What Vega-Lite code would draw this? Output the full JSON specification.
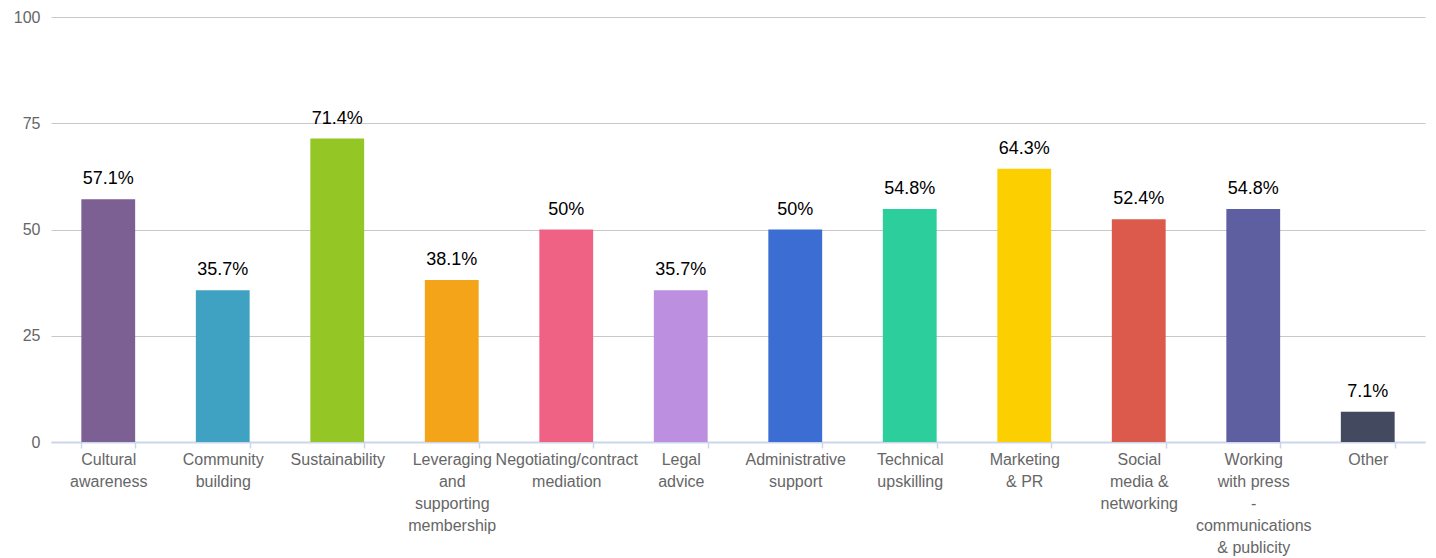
{
  "$schema": "https://vega.github.io/schema/vega-lite/v6.json",
  "width": 1374,
  "height": 425,
  "autosize": "none",
  "padding": {"left": 51, "top": 17, "right": 11, "bottom": 116},
  "background": "white",
  "data": {
    "values": [
      {"category": "Cultural|awareness", "value": 57.1, "label": "57.1%", "color": "#7c5f93"},
      {"category": "Community|building", "value": 35.7, "label": "35.7%", "color": "#3fa2c2"},
      {"category": "Sustainability", "value": 71.4, "label": "71.4%", "color": "#94c726"},
      {"category": "Leveraging|and|supporting|membership", "value": 38.1, "label": "38.1%", "color": "#f4a418"},
      {"category": "Negotiating/contract|mediation", "value": 50, "label": "50%", "color": "#ef6284"},
      {"category": "Legal|advice", "value": 35.7, "label": "35.7%", "color": "#bc8fe0"},
      {"category": "Administrative|support", "value": 50, "label": "50%", "color": "#3b6dd3"},
      {"category": "Technical|upskilling", "value": 54.8, "label": "54.8%", "color": "#2ccf9b"},
      {"category": "Marketing|& PR", "value": 64.3, "label": "64.3%", "color": "#fcd000"},
      {"category": "Social|media &|networking", "value": 52.4, "label": "52.4%", "color": "#dc5a4b"},
      {"category": "Working|with press|-|communications|& publicity", "value": 54.8, "label": "54.8%", "color": "#5e5fa1"},
      {"category": "Other", "value": 7.1, "label": "7.1%", "color": "#434a5f"}
    ]
  },
  "config": {
    "view": {"stroke": null},
    "font": "Liberation Sans"
  },
  "encoding": {
    "x": {
      "field": "category",
      "type": "nominal",
      "sort": null,
      "scale": {"paddingInner": 0.53, "paddingOuter": 0.265},
      "axis": {
        "title": null,
        "labelAngle": 0,
        "labelExpr": "split(datum.label, '|')",
        "labelFontSize": 16,
        "labelColor": "#666666",
        "labelLineHeight": 22,
        "labelPadding": 3,
        "labelLimit": 300,
        "labelOverlap": false,
        "labelBaseline": "top",
        "domainColor": "#ccd6eb",
        "domainWidth": 2,
        "tickColor": "#ccd6eb",
        "tickSize": 6,
        "tickWidth": 1.5,
        "tickBand": "extent",
        "grid": false
      }
    },
    "y": {
      "field": "value",
      "type": "quantitative",
      "scale": {"domain": [0, 100]},
      "axis": {
        "title": null,
        "values": [0, 25, 50, 75, 100],
        "labelFontSize": 16,
        "labelColor": "#666666",
        "labelPadding": 11,
        "domain": false,
        "ticks": false,
        "gridColor": "#c8c8c8",
        "gridWidth": 1
      }
    }
  },
  "layer": [
    {
      "mark": {"type": "bar"},
      "encoding": {
        "color": {"field": "color", "type": "nominal", "scale": null, "legend": null}
      }
    },
    {
      "mark": {"type": "text", "baseline": "bottom", "dy": -11, "fontSize": 18, "color": "#000000"},
      "encoding": {
        "text": {"field": "label", "type": "nominal"}
      }
    }
  ]
}
